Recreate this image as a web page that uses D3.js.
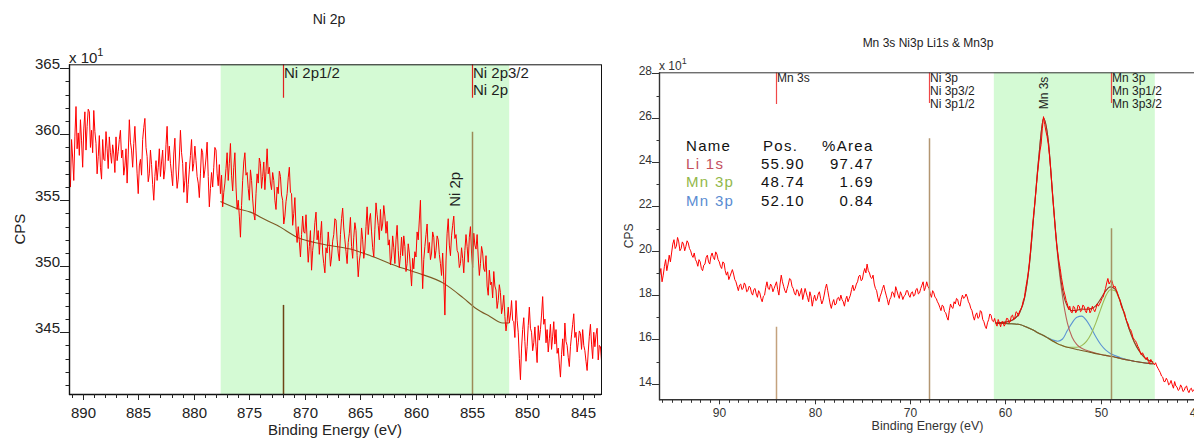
<!DOCTYPE html>
<html>
<head>
<meta charset="utf-8">
<script src="https://cdn.jsdelivr.net/npm/d3@7"></script>
<style>
  body { margin: 0; background: #fff; }
  svg { display: block; font-family: "Liberation Sans", Arial, sans-serif; }
</style>
</head>
<body>
<svg id="chart" width="1194" height="439"></svg>
<script>
// ---------- Ni 2p spectrum (0.1 eV steps from 891.2 eV) ----------
const niStartEnergy = 891.2;
const niStepEnergy = 0.1;
const niCounts = [
  357.1, 356.0, 359.6, 358.2, 356.5, 359.8, 362.1, 358.9, 360.1, 358.4, 361.1, 359.5, 357.5, 360.4, 361.7, 358.8, 360.6, 361.9, 361.7, 359.0,
  360.3, 358.6, 361.8, 360.2, 359.3, 357.0, 358.3, 359.9, 357.5, 356.6, 359.6, 358.1, 358.0, 360.2, 358.9, 357.4, 359.8, 358.6, 357.8, 359.2,
  358.5, 357.1, 359.8, 358.0, 358.7, 359.6, 360.3, 358.2, 358.8, 356.9, 357.6, 358.9, 356.3, 358.5, 361.1, 359.4, 358.8, 357.5, 359.3, 360.6,
  358.8, 357.0, 355.5, 357.6, 358.1, 356.9, 359.6, 360.5, 361.2, 359.0, 358.3, 356.4, 357.0, 358.8, 357.7, 356.2, 355.0, 356.8, 358.0, 356.5,
  357.5, 358.9, 356.8, 357.9, 358.8, 356.6, 357.3, 359.2, 360.6, 358.0, 359.1, 357.8, 357.0, 356.1, 358.5, 359.7, 357.3, 355.9, 356.6, 358.2,
  360.3, 358.6, 357.8, 355.6, 356.5, 357.9, 354.8, 356.2, 357.3, 358.4, 359.6, 357.2, 357.8, 359.1, 358.0, 356.8, 356.3, 355.2, 357.0, 358.9,
  358.6, 356.7, 357.3, 358.2, 359.4, 356.8, 354.5, 355.9, 357.1, 356.0, 357.5, 359.0, 358.8, 357.0, 356.1, 357.7, 355.5, 356.9, 354.5, 355.6,
  356.3, 357.4, 358.6, 356.5, 357.8, 359.3, 356.9, 355.7, 357.5, 358.6, 356.0, 354.3, 355.0, 353.8, 352.2, 354.6, 356.5, 357.9, 358.6, 356.9,
  357.1, 355.9, 355.0, 357.3, 356.5, 355.1, 354.0, 353.5, 355.5, 357.0, 356.3, 358.2, 357.8, 355.9, 356.8, 357.9, 355.8, 357.2, 358.9, 357.0,
  357.5, 356.3, 355.8, 357.1, 356.5, 355.0, 354.3, 356.0, 355.5, 357.2, 356.8, 355.4, 355.0, 353.2, 353.8, 354.9, 355.5, 356.7, 357.5, 355.6,
  355.5, 353.1, 354.0, 355.2, 352.9, 351.8, 353.0, 351.9, 350.7, 352.4, 353.8, 352.6, 352.5, 353.9, 352.0, 350.3, 351.5, 352.7, 349.7, 351.2,
  352.0, 353.3, 354.1, 352.0, 352.7, 350.9, 352.3, 353.4, 351.0, 350.2, 349.5, 351.4, 351.0, 352.6, 351.5, 350.0, 350.7, 351.9, 352.4, 353.6,
  353.5, 352.0, 351.0, 350.4, 352.4, 353.6, 354.4, 352.9, 352.0, 351.1, 350.2, 351.8, 352.5, 353.7, 351.5, 350.6, 352.2, 353.3, 352.7, 350.8,
  349.2, 350.4, 351.0, 352.9, 352.0, 350.6, 351.3, 353.0, 354.5, 352.4, 353.5, 354.0, 352.6, 351.4, 350.7, 352.8, 354.8, 353.9, 353.1, 352.0,
  354.3, 352.7, 353.2, 354.6, 353.8, 352.5, 353.4, 351.6, 352.0, 350.1, 350.7, 352.3, 351.4, 350.2, 352.0, 353.1, 351.2, 349.9, 350.8, 352.2,
  350.8, 352.3, 351.5, 349.6, 350.2, 351.7, 351.0, 349.8, 348.5, 350.6, 349.8, 351.1, 350.7, 352.6, 352.0, 353.5, 355.0, 351.0, 348.3, 350.5,
  351.5, 352.4, 353.2, 351.0, 351.8, 350.5, 351.0, 352.6, 352.2, 350.6, 351.2, 352.3, 352.0, 350.9, 350.2, 349.3, 351.0, 349.0, 346.3, 350.4,
  352.5, 353.6, 351.6, 350.8, 352.3, 353.1, 353.8, 352.1, 352.4, 351.2, 351.0, 349.9, 350.2, 351.4, 350.6, 349.5, 351.2, 352.4, 351.5, 350.3,
  352.2, 353.0, 351.0, 349.9, 352.5, 351.6, 351.3, 352.4, 350.7, 349.3, 350.2, 351.5, 351.0, 349.8, 349.6, 350.8, 348.5, 347.8, 349.7, 348.6,
  348.8, 347.6, 349.6, 348.5, 348.2, 346.8, 347.4, 348.6, 348.0, 346.4, 346.9, 347.8, 346.2, 345.1, 345.8, 346.9, 345.7, 346.3, 347.4, 345.9,
  345.8, 344.6, 347.4, 345.9, 345.0, 343.0, 341.4, 343.8, 345.2, 346.1, 344.3, 342.8, 343.9, 345.5, 346.9, 345.3, 345.0, 343.6, 344.2, 345.4,
  343.9, 342.7, 345.5, 344.4, 345.2, 346.3, 347.7, 345.6, 346.0, 344.2, 345.2, 343.5, 344.5, 345.6, 343.7, 344.7, 345.8, 344.1, 345.2, 343.4,
  343.8, 342.6, 341.6, 343.3, 344.5, 343.2, 345.7, 344.3, 344.0, 343.1, 342.4, 343.9, 344.8, 345.6, 346.4, 344.6, 345.0, 343.5, 344.2, 345.1,
  344.9, 343.7, 345.2, 344.0, 343.6, 342.8, 342.1, 343.5, 344.7, 345.6, 344.1, 343.0, 345.0, 343.9, 344.8, 345.3, 342.9, 344.0, 343.9, 342.8
];
// Shirley background over the fitted region
const niBgEnergy = [877.6, 876.2, 874.9, 873.5, 872.5, 870.7, 868.6, 865.9, 864.1,
                    861.7, 859.9, 857.5, 855.75, 854.6, 853.35, 852.2, 851.6];
const niBgCounts = [354.9, 354.4, 354.1, 353.5, 353.1, 352.2, 351.7, 351.3, 350.8,
                    350.0, 349.5, 348.7, 347.6, 346.8, 346.2, 345.7, 345.7];
const niRegion = [877.58, 851.61];
// peak markers
const niMarkerEnergy = [872.0, 855.0];
const niMarkerLabels = [["Ni 2p1/2"], ["Ni 2p3/2", "Ni 2p"]];
const niMarkerTickEnd = [362.77, 362.77];
const niCompLineTop = [347.07, 360.19];
const niCompLabel = "Ni 2p";
const niCompLabelEnergy = 855.0;
const niCompLabelBase = 354.5;
const niYTicks = [345, 350, 355, 360, 365];
const niXTicks = [890, 885, 880, 875, 870, 865, 860, 855, 850, 845];

// ---------- Mn 3s / Ni 3p / Li 1s / Mn 3p spectrum (0.125 eV steps from 96.25 eV) ----------
const mnStartEnergy = 96.25;
const mnStepEnergy = 0.125;
const mnCounts = [
  18.9, 19.2, 18.6, 18.9, 19.3, 19.6, 19.1, 19.4, 19.8, 19.5, 19.9, 20.3, 20.5, 20.1, 20.2, 20.6,
  20.4, 20.0, 20.1, 20.4, 20.3, 20.0, 20.2, 20.45, 20.35, 20.1, 20.0, 19.8, 19.7, 19.9, 19.6, 19.5,
  19.3, 19.6, 19.5, 19.2, 19.1, 19.35, 19.4, 19.7, 19.8, 19.5, 19.4, 19.75, 19.9, 19.7, 19.6, 19.95,
  19.85, 19.6, 19.5, 19.3, 19.2, 19.5, 19.45, 19.1, 18.9, 19.05, 18.7, 18.85, 19.0, 19.15, 18.95, 18.7,
  18.6, 18.4, 18.2, 18.45, 18.5, 18.25, 18.3, 18.55, 18.45, 18.15, 18.2, 18.4, 18.35, 18.1, 18.0, 18.25,
  18.3, 18.05, 17.9, 18.2, 18.1, 17.85, 17.7, 17.95, 18.0, 18.35, 18.6, 18.3, 18.25, 18.5, 18.4, 18.15,
  18.3, 18.45, 18.6, 18.25, 18.0, 18.5, 18.9, 18.6, 18.4, 18.2, 18.1, 18.3, 18.5, 18.75, 18.7, 18.4,
  18.3, 18.1, 18.0, 18.25, 18.2, 17.95, 18.1, 18.3, 17.8, 18.05, 18.3, 18.1, 17.9, 17.7, 18.15, 17.95,
  17.5, 17.8, 18.0, 17.75, 17.8, 18.05, 18.15, 17.85, 17.6, 17.75, 18.0, 18.3, 18.5, 18.2, 17.9, 17.6,
  17.4, 17.65, 17.8, 17.55, 17.6, 17.85, 17.9, 17.75, 18.0, 17.8, 17.7, 17.5, 17.8, 17.95, 17.7, 17.85,
  18.0, 18.25, 18.45, 18.2, 18.3, 18.5, 18.6, 18.85, 18.9, 18.65, 18.7, 19.0, 19.2, 19.0, 19.4, 19.1,
  19.0, 18.8, 18.75, 18.9, 18.5, 18.3, 18.2, 17.9, 17.7, 17.95, 18.1, 18.3, 18.45, 18.2, 18.0, 17.8,
  17.55, 17.8, 17.9, 18.15, 18.1, 17.9, 18.38, 18.2, 18.0, 17.85, 18.15, 18.0, 17.8, 17.95, 18.0, 18.2,
  18.2, 18.0, 17.9, 18.1, 18.15, 17.95, 18.0, 18.25, 18.3, 18.05, 18.1, 18.3, 18.45, 18.6, 18.2, 18.35,
  18.6, 18.4, 18.3, 18.05, 17.9, 18.2, 18.1, 17.9, 17.85, 17.7, 17.6, 17.45, 17.3, 17.55, 17.5, 17.25,
  17.2, 17.0, 16.87, 17.3, 17.6, 17.45, 17.4, 17.7, 17.6, 17.85, 17.8, 17.55, 17.5, 17.8, 18.0, 17.85,
  17.9, 18.05, 17.92, 17.7, 17.6, 17.4, 17.3, 17.05, 16.87, 17.1, 17.2, 16.95, 17.0, 17.3, 17.24, 16.9,
  16.8, 16.6, 16.49, 16.75, 16.9, 17.15, 17.09, 16.85, 16.8, 16.95, 16.72, 16.6, 16.9, 16.75, 16.57, 16.8,
  16.8, 16.6, 16.7, 16.95, 16.94, 16.75, 16.8, 17.05, 17.1, 16.9, 17.0, 17.25, 17.2, 17.05, 17.3, 17.35,
  17.5, 17.75, 17.9, 18.3, 18.6, 18.95, 19.4, 19.95, 20.6, 21.25, 21.8, 22.3, 22.9, 23.5, 24.0, 24.5,
  24.8, 25.5, 26.05, 25.7, 25.4, 25.15, 24.8, 24.3, 23.7, 23.0, 22.3, 21.6, 20.9, 20.3, 19.9, 19.5,
  19.2, 18.8, 18.5, 18.2, 18.0, 17.75, 17.6, 17.35, 17.5, 17.25, 17.2, 17.5, 17.45, 17.2, 17.3, 17.55,
  17.5, 17.25, 17.3, 17.55, 17.5, 17.3, 17.2, 17.45, 17.45, 17.2, 17.3, 17.5, 17.35, 17.25, 17.4, 17.6,
  17.5, 17.6, 17.7, 17.85, 17.9, 18.1, 18.3, 18.55, 18.75, 18.5, 18.6, 18.7, 18.52, 18.35, 18.4, 18.25,
  18.1, 17.9, 17.8, 17.55, 17.4, 17.3, 17.2, 16.95, 16.8, 16.7, 16.5, 16.45, 16.3, 16.1, 16.0, 15.95,
  15.85, 15.7, 15.6, 15.45, 15.3, 15.4, 15.3, 15.15, 15.1, 15.2, 15.0, 14.9, 15.1, 15.0, 14.95, 14.85,
  14.95, 14.8, 14.7, 14.6, 14.5, 14.35, 14.3, 14.1, 14.1, 14.25, 14.15, 13.95, 14.0, 14.15, 13.95, 13.8,
  14.1, 13.9, 13.85, 13.7, 13.75, 13.95, 13.85, 13.65, 13.7, 13.85, 13.9, 13.7, 13.6, 13.75, 13.8, 13.65,
  13.7, 13.8, 13.75
];
// fit: background and component heights above it
const fitEnergy = [61.0, 60.5, 60.0, 59.5, 59.0, 58.5, 58.0, 57.5, 57.0, 56.5, 56.0, 55.5,
                   55.0, 54.5, 54.0, 53.5, 53.0, 52.5, 52.0, 51.5, 51.0, 50.5, 50.0, 49.5,
                   49.0, 48.5, 48.0, 47.5, 47.0, 46.5, 46.0, 45.5, 45.0, 44.5];
const fitBackground = [16.72, 16.72, 16.72, 16.71, 16.70, 16.67, 16.60, 16.50, 16.40, 16.28, 16.18, 16.05,
                       15.92, 15.80, 15.72, 15.65, 15.60, 15.55, 15.50, 15.46, 15.41, 15.36, 15.32, 15.28,
                       15.24, 15.20, 15.15, 15.10, 15.06, 15.02, 14.98, 14.95, 14.92, 14.90];
const fitLi1s = [0.02, 0.04, 0.06, 0.12, 0.25, 0.55, 1.25, 2.8, 5.3, 7.9, 9.8, 8.9,
                 6.3, 3.9, 2.2, 1.1, 0.5, 0.22, 0.1, 0.05, 0.03, 0.02, 0.01, 0,
                 0, 0, 0, 0, 0, 0, 0, 0, 0, 0];
const fitMn3pA = [0, 0, 0, 0, 0, 0, 0, 0, 0, 0, 0, 0,
                  0, 0, 0, 0, 0.05, 0.1, 0.22, 0.45, 0.85, 1.4, 2.05, 2.65,
                  3.0, 3.0, 2.6, 2.0, 1.38, 0.88, 0.52, 0.28, 0.14, 0.07];
const fitMn3pB = [0, 0, 0, 0, 0, 0, 0, 0, 0, 0, 0, 0.02,
                  0.05, 0.12, 0.3, 0.75, 1.15, 1.45, 1.55, 1.4, 1.1, 0.75, 0.45, 0.25,
                  0.13, 0.07, 0.04, 0.02, 0, 0, 0, 0, 0, 0];
const mnRegion = [61.21, 44.33];
// quantification table
const tableNames = ["Li 1s", "Mn 3p", "Mn 3p"];
const tablePos = [55.90, 48.74, 52.10];
const tableArea = [97.47, 1.69, 0.84];
// peak markers
const mnMarkerEnergy = [84.0, 68.0, 48.9];
const mnMarkerLabels = [["Mn 3s"], ["Ni 3p", "Ni 3p3/2", "Ni 3p1/2"], ["Mn 3p", "Mn 3p1/2", "Mn 3p3/2"]];
const mnMarkerTickEnd = [26.62, 26.66, 26.66];
const mnCompLineTop = [16.57, 25.07, 21.01];
const mnCompLabel = "Mn 3s Ni 3p";
const mnCompLabelEnergy = 55.9;
const mnCompLabelBase = 26.38;
const mnYTicks = [14, 16, 18, 20, 22, 24, 26, 28];
const mnXTicks = [90, 80, 70, 60, 50, 40];

// ---------- drawing ----------
const svg = d3.select("#chart");
const INK = "#1e1e1e";

function makePanel(id, xDomain, xRange, yDomain, yRange) {
  const x = d3.scaleLinear().domain(xDomain).range(xRange);
  const y = d3.scaleLinear().domain(yDomain).range(yRange);
  const [x0, x1] = xRange, [yb, yt] = yRange;
  svg.append("clipPath").attr("id", id + "-clip")
    .append("rect").attr("x", x0).attr("y", yt).attr("width", x1 - x0).attr("height", yb - yt);
  const g = svg.append("g");
  const plot = g.append("g").attr("clip-path", `url(#${id}-clip)`);
  return { x, y, x0, x1, yb, yt, g, plot };
}

function hline(g, x0, x1, y, color, w) {
  g.append("line").attr("x1", x0).attr("x2", x1).attr("y1", y).attr("y2", y)
    .attr("stroke", color).attr("stroke-width", w || 1);
}
function vline(g, x, y0, y1, color, w) {
  g.append("line").attr("x1", x).attr("x2", x).attr("y1", y0).attr("y2", y1)
    .attr("stroke", color).attr("stroke-width", w || 1);
}

// ===== Panel 1: Ni 2p =====
const P = makePanel("ni", [891.23, 843.35], [69, 601], [340.32, 365.3], [394, 64.3]);
const niEnergy = niCounts.map((_, i) => niStartEnergy - niStepEnergy * i);

P.plot.append("rect")
  .attr("x", P.x(niRegion[0])).attr("width", P.x(niRegion[1]) - P.x(niRegion[0]))
  .attr("y", P.yt).attr("height", P.yb - P.yt).attr("fill", "#d4fad4");

P.plot.append("path")
  .datum(d3.zip(niBgEnergy, niBgCounts))
  .attr("d", d3.line().x(d => P.x(d[0])).y(d => P.y(d[1])).curve(d3.curveMonotoneX))
  .attr("fill", "none").attr("stroke", "#7d5a25").attr("stroke-width", 1.1);

P.plot.append("path")
  .datum(d3.zip(niEnergy, niCounts))
  .attr("d", d3.line().x(d => P.x(d[0])).y(d => P.y(d[1])))
  .attr("fill", "none").attr("stroke", "#ff0000").attr("stroke-width", 1);

const niCompColors = ["#6e4316", "#9c8a58"];
niMarkerEnergy.forEach((e, i) => {
  const xm = Math.round(P.x(e)) + 0.5;
  vline(P.plot, xm, P.y(niCompLineTop[i]), P.yb, niCompColors[i], 1.5);
  vline(P.plot, xm, P.yt, P.y(niMarkerTickEnd[i]), "#e02020", 1.2);
  niMarkerLabels[i].forEach((t, k) => {
    P.g.append("text").attr("x", xm + 0.5).attr("y", P.yt + 14 + k * 16.8)
      .attr("font-size", 15).attr("fill", INK).text(t);
  });
});
P.plot.append("text")
  .attr("transform", `translate(${P.x(niCompLabelEnergy) - 12},${P.y(niCompLabelBase)}) rotate(-90)`)
  .attr("font-size", 15).attr("fill", INK).text(niCompLabel);

// frame
hline(P.g, P.x0, P.x1, P.yt + 0.5, "#111");
hline(P.g, P.x0, P.x1, P.yb + 0.5, "#111", 1.4);
vline(P.g, P.x0 + 0.5, P.yt, P.yb + 1, "#111", 1.4);
vline(P.g, P.x1 + 0.5, P.yt, P.yb + 1, "#111");

// y ticks
d3.range(341, 366).forEach(v => {
  const yy = Math.round(P.y(v)) + 0.5;
  if (niYTicks.includes(v)) {
    hline(P.g, P.x0 - 9, P.x0, yy, "#222");
    P.g.append("text").attr("x", P.x0 - 9).attr("y", yy).attr("text-anchor", "end")
      .attr("font-size", 15).attr("fill", "#222").text(v);
  } else {
    hline(P.g, P.x0 - 3.5, P.x0, yy, "#222");
  }
});
// x ticks
d3.range(844, 892).forEach(v => {
  const xx = Math.round(P.x(v)) + 0.5;
  const major = niXTicks.includes(v);
  vline(P.g, xx, P.yb, P.yb + (major ? 6 : 4), "#222");
  if (major) {
    P.g.append("text").attr("x", xx).attr("y", P.yb + 24).attr("text-anchor", "middle")
      .attr("font-size", 15).attr("fill", "#222").text(v);
  }
});
P.g.append("text").attr("x", (P.x0 + P.x1) / 2).attr("y", 435).attr("text-anchor", "middle")
  .attr("font-size", 15).attr("fill", "#222").text("Binding Energy (eV)");
P.g.append("text").attr("transform", `translate(25,${(P.yt + P.yb) / 2}) rotate(-90)`)
  .attr("text-anchor", "middle").attr("font-size", 15).attr("fill", "#222").text("CPS");
const m1 = P.g.append("text").attr("x", P.x0).attr("y", 62.5).attr("font-size", 15).attr("fill", "#222");
m1.append("tspan").text("x 10");
m1.append("tspan").attr("dy", -7).attr("font-size", 11).text("1");
P.g.append("text").attr("x", 329).attr("y", 24).attr("text-anchor", "middle")
  .attr("font-size", 14).attr("fill", "#222").text("Ni 2p");

// ===== Panel 2: Mn 3s / Ni 3p / Li 1s / Mn 3p =====
const Q = makePanel("mn", [96.32, 40], [659, 1196.1], [13.30, 28.05], [399.3, 72.3]);
const mnEnergy = mnCounts.map((_, i) => mnStartEnergy - mnStepEnergy * i);

Q.plot.append("rect")
  .attr("x", Q.x(mnRegion[0])).attr("width", Q.x(mnRegion[1]) - Q.x(mnRegion[0]))
  .attr("y", Q.yt).attr("height", Q.yb - Q.yt).attr("fill", "#d4fad4");

const fitLine = d3.line().x(d => Q.x(d[0])).y(d => Q.y(d[1])).curve(d3.curveMonotoneX);
const withBg = comp => fitEnergy.map((e, i) => [e, fitBackground[i] + comp[i]]);
const envelope = fitEnergy.map((e, i) => [e, fitBackground[i] + fitLi1s[i] + fitMn3pA[i] + fitMn3pB[i]]);

[[withBg(fitMn3pB), "#5b93d3"],
 [withBg(fitMn3pA), "#9cbb55"],
 [withBg(fitLi1s), "#b8645a"],
 [fitEnergy.map((e, i) => [e, fitBackground[i]]), "#7d5a25"],
 [envelope, "#8f3a26"]].forEach(([pts, col]) => {
  Q.plot.append("path").datum(pts).attr("d", fitLine)
    .attr("fill", "none").attr("stroke", col).attr("stroke-width", 1.1);
});

Q.plot.append("path")
  .datum(d3.zip(mnEnergy, mnCounts))
  .attr("d", d3.line().x(d => Q.x(d[0])).y(d => Q.y(d[1])))
  .attr("fill", "none").attr("stroke", "#ff0000").attr("stroke-width", 1);

const mnCompColors = ["#c4a27e", "#b39672", "#a49464"];
mnMarkerEnergy.forEach((e, i) => {
  const xm = Math.round(Q.x(e)) + 0.5;
  vline(Q.plot, xm, Q.y(mnCompLineTop[i]), Q.yb, mnCompColors[i], 1.5);
  vline(Q.plot, xm, Q.yt, Q.y(mnMarkerTickEnd[i]), "#f04848", 1.2);
  mnMarkerLabels[i].forEach((t, k) => {
    Q.g.append("text").attr("x", xm + 0.5).attr("y", Q.yt + 10 + k * 12.7)
      .attr("font-size", 12).attr("fill", INK).text(t);
  });
});
Q.plot.append("text")
  .attr("transform", `translate(${Q.x(mnCompLabelEnergy) + 4},${Q.y(mnCompLabelBase)}) rotate(-90)`)
  .attr("font-size", 12).attr("fill", INK).text(mnCompLabel);

// quantification table
const tbl = Q.g.append("g").attr("font-size", 15).attr("letter-spacing", 1.3);
const rowY = [151, 169, 187.3, 205.6];
tbl.append("text").attr("x", 686).attr("y", rowY[0]).attr("fill", "#111").text("Name");
tbl.append("text").attr("x", 763).attr("y", rowY[0]).attr("fill", "#111").text("Pos.");
tbl.append("text").attr("x", 822).attr("y", rowY[0]).attr("fill", "#111").text("%Area");
const tableColors = ["#c4505e", "#92b84a", "#5a8cd2"];
tableNames.forEach((n, i) => {
  tbl.append("text").attr("x", 686).attr("y", rowY[i + 1]).attr("fill", tableColors[i]).text(n);
  tbl.append("text").attr("x", 805).attr("y", rowY[i + 1]).attr("text-anchor", "end")
    .attr("fill", "#111").text(tablePos[i].toFixed(2));
  tbl.append("text").attr("x", 874).attr("y", rowY[i + 1]).attr("text-anchor", "end")
    .attr("fill", "#111").text(tableArea[i].toFixed(2));
});

// frame
hline(Q.g, Q.x0, 1194, Q.yt + 0.5, "#333");
hline(Q.g, Q.x0, 1194, Q.yb + 0.5, "#333", 1.4);
vline(Q.g, Q.x0 + 0.5, Q.yt, Q.yb + 1, "#333", 1.4);

// y ticks
d3.range(14, 29).forEach(v => {
  const yy = Math.round(Q.y(v)) + 0.5;
  if (mnYTicks.includes(v)) {
    hline(Q.g, Q.x0 - 7, Q.x0, yy, "#333");
    Q.g.append("text").attr("x", Q.x0 - 7).attr("y", yy + 1).attr("text-anchor", "end")
      .attr("font-size", 12).attr("fill", "#333").text(v);
  } else {
    hline(Q.g, Q.x0 - 2.5, Q.x0, yy, "#333");
  }
});
// x ticks
d3.range(40, 97).forEach(v => {
  const xx = Math.round(Q.x(v)) + 0.5;
  const major = mnXTicks.includes(v);
  vline(Q.g, xx, Q.yb, Q.yb + (major ? 5 : 3.5), "#333");
  if (major) {
    Q.g.append("text").attr("x", xx).attr("y", Q.yb + 17.5).attr("text-anchor", "middle")
      .attr("font-size", 12).attr("fill", "#333").text(v);
  }
});
Q.g.append("text").attr("x", (Q.x0 + Q.x1) / 2).attr("y", 430).attr("text-anchor", "middle")
  .attr("font-size", 12.5).attr("fill", "#333").text("Binding Energy (eV)");
Q.g.append("text").attr("transform", `translate(633,${(Q.yt + Q.yb) / 2}) rotate(-90)`)
  .attr("text-anchor", "middle").attr("font-size", 12).attr("fill", "#333").text("CPS");
const m2 = Q.g.append("text").attr("x", Q.x0).attr("y", 70).attr("font-size", 12).attr("fill", "#333");
m2.append("tspan").text("x 10");
m2.append("tspan").attr("dy", -6).attr("font-size", 9).text("1");
Q.g.append("text").attr("x", 928).attr("y", 47).attr("text-anchor", "middle")
  .attr("font-size", 12).attr("fill", "#222").text("Mn 3s Ni3p Li1s & Mn3p");
</script>
</body>
</html>
